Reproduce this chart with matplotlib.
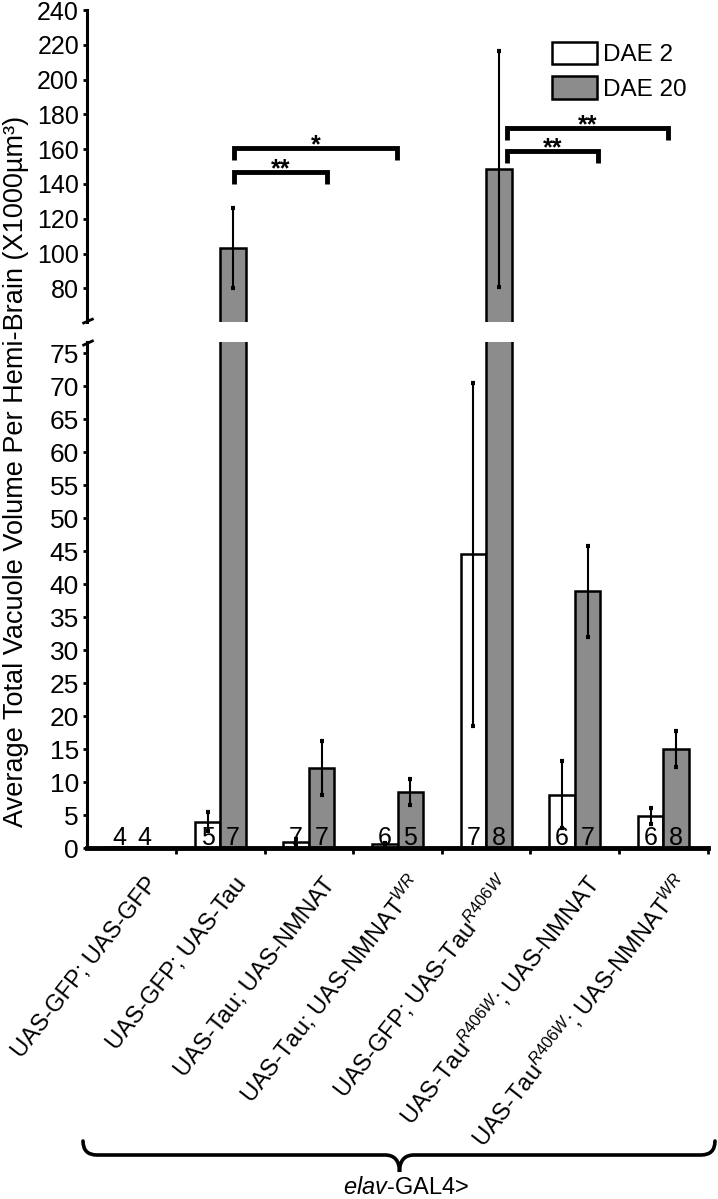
import numpy as np
import matplotlib
matplotlib.use('Agg')
import matplotlib.pyplot as plt
from matplotlib.path import Path
from matplotlib.patches import PathPatch
from matplotlib.transforms import Affine2D, ScaledTranslation

plt.rcParams['font.family'] = ['Liberation Sans', 'DejaVu Sans']
plt.rcParams['mathtext.fontset'] = 'custom'
plt.rcParams['mathtext.rm'] = 'Liberation Sans'
plt.rcParams['mathtext.it'] = 'Liberation Sans:italic'
plt.rcParams['mathtext.bf'] = 'Liberation Sans:bold'

# data (x1000 um^3)
genotypes = ['UAS-GFP; UAS-GFP',
             'UAS-GFP; UAS-Tau',
             'UAS-Tau; UAS-NMNAT',
             r'UAS-Tau; UAS-NMNAT$^{\mathit{WR}}$',
             r'UAS-GFP; UAS-Tau$^{\mathit{R406W}}$',
             r'UAS-Tau$^{\mathit{R406W}}$; UAS-NMNAT',
             r'UAS-Tau$^{\mathit{R406W}}$; UAS-NMNAT$^{\mathit{WR}}$']
dae2 = [0.2, 4.0, 0.9, 0.6, 44.5, 8.1, 4.85]
dae2_err = [0, 1.45, 0.4, 0.2, 26.0, 5.1, 1.25]
dae20 = [0.2, 103.3, 12.1, 8.5, 148.6, 38.9, 15.0]
dae20_err = [0, 22.9, 4.1, 2.0, 67.9, 6.9, 2.75]
n_dae2 = [4, 5, 7, 6, 7, 6, 6]
n_dae20 = [4, 7, 7, 5, 8, 7, 8]

# significance brackets
sig_x1 = [1.16, 1.16, 4.23, 4.23]
sig_x2 = [2.99, 2.20, 6.05, 5.26]
sig_y = [160.9, 147.0, 172.3, 159.1]
sig_txt = ['*', '**', '**', '**']

GRAY = '#8c8c8c'
W_PX, H_PX = 718, 1199
LO_TOP, HI_BOTTOM = 76.7, 60.8

fig = plt.figure(figsize=(7.18, 11.99), dpi=100)
left = 87.4 / W_PX
width = (707.7 - 87.4) / W_PX
ax_lo = fig.add_axes([left, (H_PX - 848) / H_PX, width, 506 / H_PX])
ax_hi = fig.add_axes([left, (H_PX - 321.7) / H_PX, width, 311.7 / H_PX])

x = np.arange(len(genotypes))
bw = 0.288


def draw_errors(ax, xs, vals, errs, keep):
    idx = [i for i in range(len(vals)) if errs[i] > 0 and keep(vals[i])]
    if not idx:
        return
    ax.errorbar(np.array(xs)[idx], np.array(vals)[idx], yerr=np.array(errs)[idx],
                fmt='none', ecolor='black', elinewidth=1.5, capsize=1.5,
                capthick=3, zorder=3)


for ax in (ax_lo, ax_hi):
    b2 = ax.bar(x - bw / 2, dae2, bw, color='white', edgecolor='black',
                linewidth=1.8, zorder=2, label='DAE 2')
    b20 = ax.bar(x + bw / 2, dae20, bw, color=GRAY, edgecolor='black',
                 linewidth=1.8, zorder=2, label='DAE 20')
    ax.set_xlim(-0.5, 6.5)
    ax.spines['top'].set_visible(False)
    ax.spines['right'].set_visible(False)
    ax.spines['left'].set_linewidth(2.2)
    ax.tick_params(axis='y', length=3, width=2, direction='out', pad=3)

# error bars: lower part shows bars below the break, upper part those above
draw_errors(ax_lo, x - bw / 2, dae2, dae2_err, lambda v: v < LO_TOP)
draw_errors(ax_lo, x + bw / 2, dae20, dae20_err, lambda v: v < LO_TOP)
draw_errors(ax_hi, x - bw / 2, dae2, dae2_err, lambda v: v > HI_BOTTOM)
draw_errors(ax_hi, x + bw / 2, dae20, dae20_err, lambda v: v > HI_BOTTOM)

# lower part
ax_lo.set_ylim(0, LO_TOP)
ax_lo.set_yticks(np.arange(0, 76, 5))
ax_lo.tick_params(axis='y', labelsize=19)
ax_lo.spines['bottom'].set_linewidth(3.5)
ax_lo.spines['bottom'].set_zorder(5)
ax_lo.set_xticks(x)
ax_lo.set_xticklabels(genotypes, fontsize=17)
ax_lo.set_xticks(np.arange(0.5, 7, 1), minor=True)
ax_lo.tick_params(axis='x', which='major', length=0, pad=26)
ax_lo.tick_params(axis='x', which='minor', length=4, width=2, direction='out')
for lbl in ax_lo.get_xticklabels():
    lbl.set_rotation(52)
    lbl.set_ha('right')
    lbl.set_va('baseline')
    lbl.set_rotation_mode('anchor')
    lbl.set_transform(lbl.get_transform() + ScaledTranslation(0.27, 0, fig.dpi_scale_trans))

for i in x:
    ax_lo.text(i - bw / 2, 0.45, str(n_dae2[i]), ha='center', va='baseline', fontsize=18, zorder=4)
    ax_lo.text(i + bw / 2, 0.45, str(n_dae20[i]), ha='center', va='baseline', fontsize=18, zorder=4)

# upper part
ax_hi.set_ylim(HI_BOTTOM, 240)
ax_hi.set_yticks(np.arange(80, 241, 20))
ax_hi.tick_params(axis='y', labelsize=18)
ax_hi.spines['bottom'].set_visible(False)
ax_hi.set_xticks([])

for x1, x2, y, t in zip(sig_x1, sig_x2, sig_y, sig_txt):
    ax_hi.plot([x1, x1, x2, x2], [y - 7, y, y, y - 7], color='black', lw=3.5,
               solid_joinstyle='miter', solid_capstyle='butt', zorder=4)
    ax_hi.text((x1 + x2) / 2, y - 2.7, t, ha='center', va='baseline',
               fontsize=18, fontweight='bold')

ax_hi.legend(handles=[b2, b20], loc='upper left',
             bbox_to_anchor=(551.7 / W_PX, 1 - 41.7 / H_PX),
             bbox_transform=fig.transFigure, frameon=False, fontsize=17.5,
             handlelength=1.85, handleheight=1.05, handletextpad=0.25,
             labelspacing=0.4, borderpad=0, borderaxespad=0)

# axis break marks
ax_hi.plot([-0.006, 0.008], [-0.004, 0.008], transform=ax_hi.transAxes,
           color='black', lw=2, clip_on=False)
ax_lo.plot([-0.006, 0.008], [0.994, 1.002], transform=ax_lo.transAxes,
           color='black', lw=2, clip_on=False)

fig.text(16 / W_PX, 1 - 471 / H_PX,
         'Average Total Vacuole Volume Per Hemi-Brain (X1000\u00b5m\u00b3)',
         rotation=90, ha='center', va='center', fontsize=19.5)

# curly brace under the genotype labels (pixel coords, y down)
px = Affine2D().scale(1 / W_PX, -1 / H_PX).translate(0, 1) + fig.transFigure
verts = [(83, 1141), (83, 1155), (97, 1155),
         (385, 1155),
         (399.5, 1155), (399.5, 1172),
         (399.5, 1155), (414, 1155),
         (701, 1155),
         (715, 1155), (715, 1141)]
codes = [Path.MOVETO, Path.CURVE3, Path.CURVE3,
         Path.LINETO,
         Path.CURVE3, Path.CURVE3,
         Path.CURVE3, Path.CURVE3,
         Path.LINETO,
         Path.CURVE3, Path.CURVE3]
fig.patches.append(PathPatch(Path(verts, codes), transform=px, fill=False,
                             lw=2.6, edgecolor='black', capstyle='round'))
fig.text(406 / W_PX, 1 - 1188 / H_PX, r'$\mathit{elav}$-GAL4>',
         ha='center', va='center', fontsize=17)

fig.savefig('out.png', dpi=100)
